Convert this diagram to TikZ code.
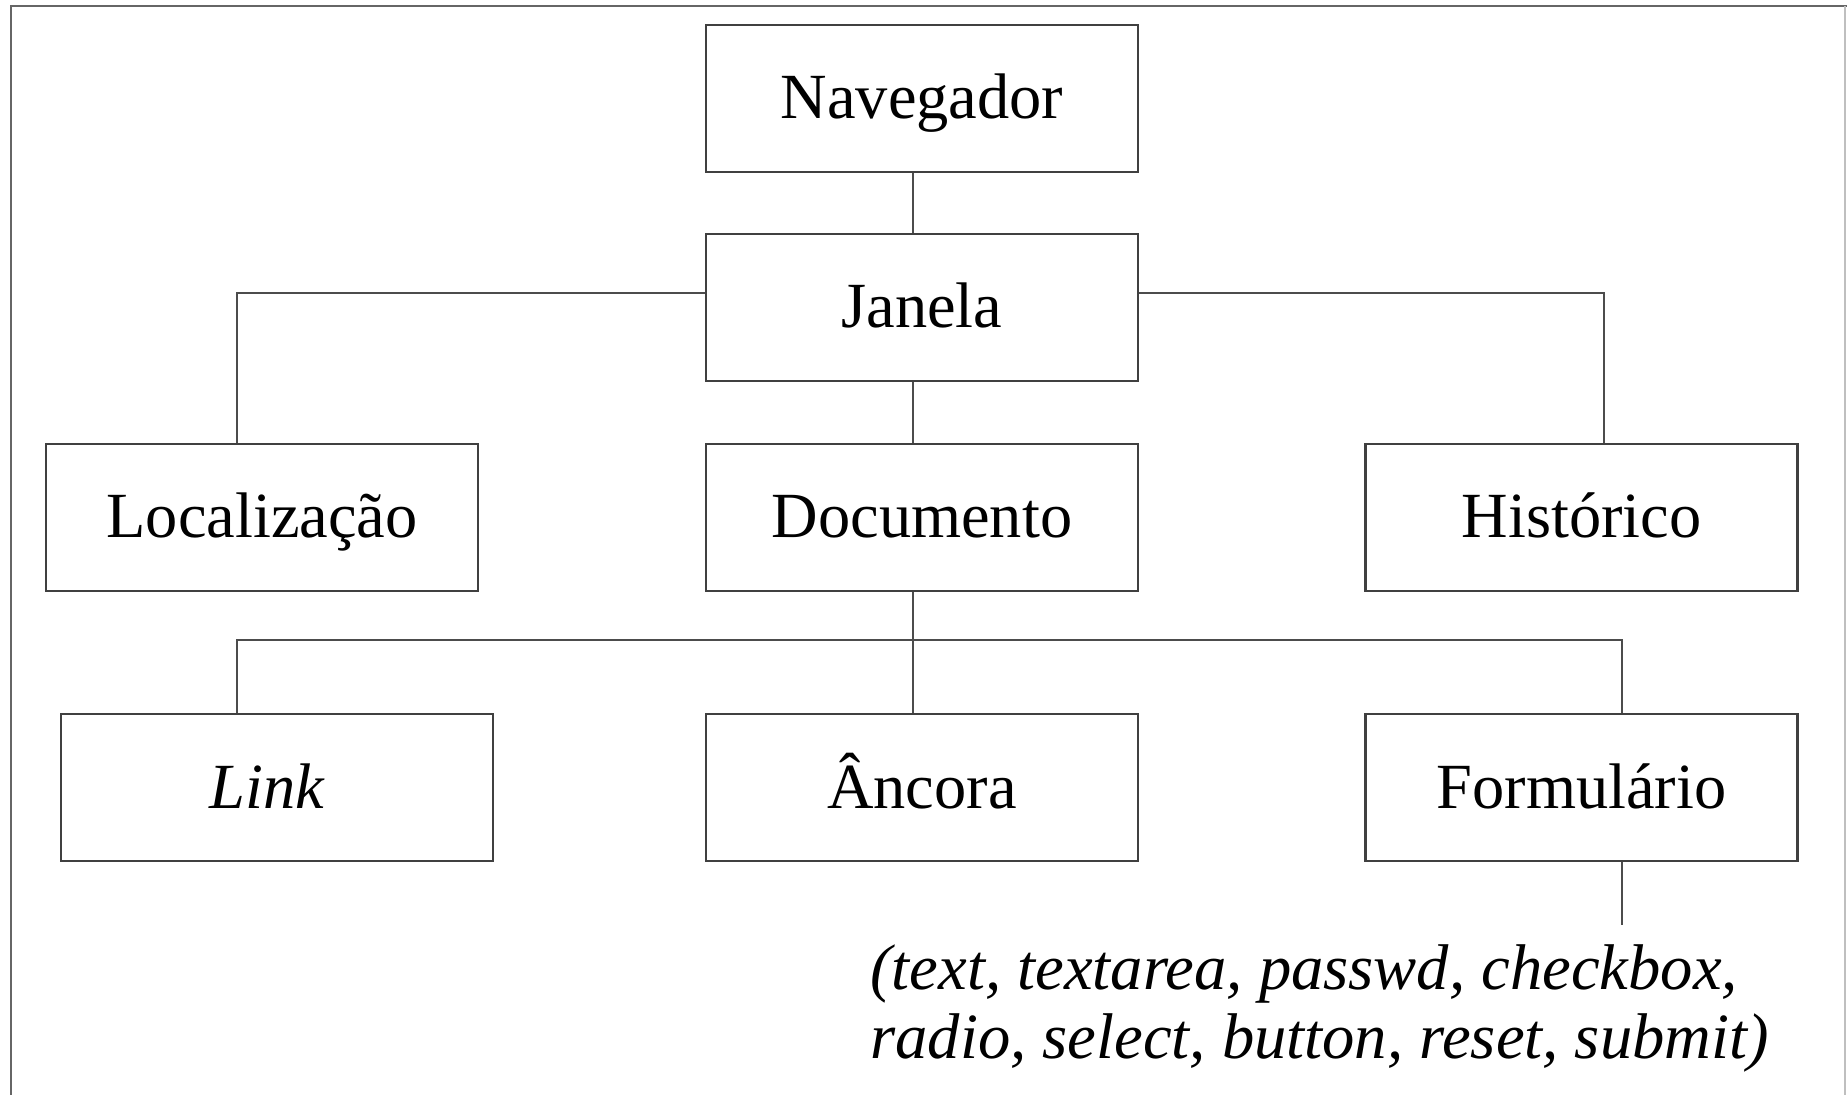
\documentclass[tikz,border=0pt]{standalone}
\usepackage{fontspec}
\setmainfont{Liberation Serif}
\begin{document}
\begin{tikzpicture}[x=0.5pt,y=-0.5pt,
  box/.style={draw=black!75,line width=1.4pt,rectangle,inner sep=0pt,
    minimum width=216pt,minimum height=73.5pt,text height=25.6pt,text depth=5.1pt,
    font=\fontsize{32.2}{36}\selectfont},
  conn/.style={draw=black!70,line width=1.1pt},
  opt/.style={inner sep=0pt,anchor=base west,font=\fontsize{32.3}{36}\selectfont\itshape}]
\useasboundingbox (0,0) rectangle (1847,1095);
% frame
\draw[black!60,line width=1.3pt] (11,1095) -- (11,6) -- (1847,6);
\draw[black!25,line width=0.8pt] (1845,6) -- (1845,1095);
% nodes
\node[box] (nav) at (922,98.5) {Navegador};
\node[box] (jan) at (922,307.5) {Janela};
\node[box] (loc) at (262,517.5) {Localização};
\node[box] (doc) at (922,517.5) {Documento};
\node[box] (his) at (1581.5,517.5) {Histórico};
\node[box] (lnk) at (277,787.5) {\itshape Link\hspace*{10pt}};
\node[box] (anc) at (922,787.5) {Âncora};
\node[box] (frm) at (1581.5,787.5) {Formulário};
\node[opt] (op1) at (870,989) {(text, textarea, passwd, checkbox,};
\node[opt] (op2) at (870,1058) {radio, select, button, reset, submit)};
% helper coordinates
\coordinate (cx) at (913,0);
\coordinate (lx) at (237,0);
\coordinate (hx) at (1604,0);
\coordinate (fx) at (1622,0);
\coordinate (hy) at (0,293);
\coordinate (by) at (0,640);
\coordinate (fend) at (1622,925);
% connectors
\draw[conn] (nav.south -| cx) -- (jan.north -| cx);
\draw[conn] (jan.south -| cx) -- (doc.north -| cx);
\draw[conn] (jan.west |- hy) -- (lx |- hy) -- (loc.north -| lx);
\draw[conn] (jan.east |- hy) -- (hx |- hy) -- (his.north -| hx);
\draw[conn] (doc.south -| cx) -- (anc.north -| cx);
\draw[conn] (lnk.north -| lx) -- (lx |- by) -- (fx |- by) -- (frm.north -| fx);
\draw[conn] (frm.south -| fx) -- (fend);
\end{tikzpicture}
\end{document}
